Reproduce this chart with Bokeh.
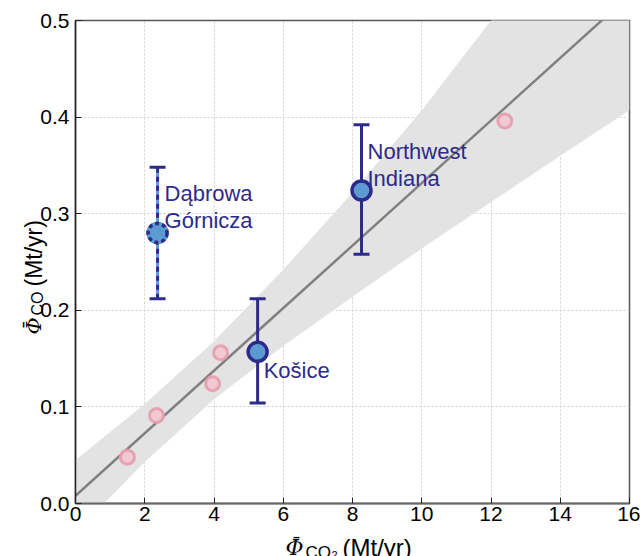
import math
from bokeh.plotting import figure
from bokeh.models import Range1d, FixedTicker, NumeralTickFormatter
from bokeh.core.properties import value
from bokeh.embed import file_html
from bokeh.resources import INLINE

# ---------------- data ----------------
other_x = [1.50, 2.34, 3.96, 4.19, 12.40]
other_y = [0.048, 0.091, 0.124, 0.156, 0.396]

site_names = ["Dąbrowa\nGórnicza", "Northwest\nIndiana", "Košice"]
site_x = [2.37, 8.26, 5.26]
site_y = [0.280, 0.324, 0.157]
site_lo = [0.212, 0.258, 0.104]
site_hi = [0.348, 0.392, 0.212]

fit_x = [0.0, 16.0]
fit_y = [0.008, 0.526]

band_x = [0, 2, 4, 6, 8, 10, 12, 14, 16]
band_lo = [-0.030, 0.043, 0.108, 0.163, 0.214, 0.264, 0.312, 0.360, 0.407]
band_hi = [0.045, 0.103, 0.168, 0.242, 0.322, 0.407, 0.500, 0.595, 0.690]

x_ticks = [0, 2, 4, 6, 8, 10, 12, 14, 16]
y_ticks = [0.0, 0.1, 0.2, 0.3, 0.4, 0.5]

# ---------------- styles ----------------
NAVY = "#2d2a8a"
LBLUE = "#5c9bd1"
FONT = "Liberation Sans"
SERIF = "DejaVu Serif"

FL, FB = 75, 503  # frame left / bottom in canvas pixels

p = figure(width=640, height=556, x_range=Range1d(0, 16), y_range=Range1d(0, 0.5),
           output_backend="svg", toolbar_location=None,
           min_border_left=FL, min_border_right=11, min_border_top=20, min_border_bottom=556 - FB)
p.background_fill_color = "white"
p.border_fill_color = "white"
p.outline_line_color = "#555555"
p.outline_line_width = 1.5

p.xaxis.ticker = FixedTicker(ticks=x_ticks)
p.yaxis.ticker = FixedTicker(ticks=y_ticks)
p.yaxis.formatter = NumeralTickFormatter(format="0.0")
p.axis.major_tick_in = 6
p.axis.major_tick_out = 0
p.axis.minor_tick_line_color = None
p.axis.major_tick_line_color = "#222222"
p.axis.major_label_text_font = FONT
p.axis.major_label_text_font_size = "21px"
p.axis.major_label_text_color = "black"
p.xaxis.major_label_standoff = 3
p.yaxis.major_label_standoff = 6
p.yaxis.axis_line_color = "#222222"
p.yaxis.axis_line_width = 1.5
p.xaxis.axis_line_color = "#666666"
p.xaxis.axis_line_width = 2

p.grid.grid_line_color = "#cfcfcf"
p.grid.grid_line_dash = "2 2"
p.grid.grid_line_width = 1

# confidence band and fit
p.varea(x=band_x, y1=band_lo, y2=band_hi, fill_color="#e3e3e3")
p.line(fit_x, fit_y, line_color="#808080", line_width=2.5)

# other sites
p.scatter(other_x, other_y, size=14, fill_color="#f3c5d0", line_color="#e49cae",
          line_width=3, fill_alpha=0.9, line_alpha=0.9)

# highlighted sites: index 0 dashed, others solid
solid = [1, 2]
dashed = [0]

sx = [site_x[i] for i in solid]
p.segment(x0=sx, y0=[site_lo[i] for i in solid], x1=sx, y1=[site_hi[i] for i in solid],
          line_color=NAVY, line_width=3)
dx = [site_x[i] for i in dashed]
dlo = [site_lo[i] for i in dashed]
dhi = [site_hi[i] for i in dashed]
p.segment(x0=dx, y0=dlo, x1=dx, y1=dhi, line_color=LBLUE, line_width=3)
p.segment(x0=dx, y0=dlo, x1=dx, y1=dhi, line_color=NAVY, line_width=3, line_dash="5 4")

# caps
p.scatter(site_x + site_x, site_lo + site_hi, marker="dash", size=16,
          line_color=NAVY, line_width=3)

# markers
p.scatter([site_x[i] for i in solid], [site_y[i] for i in solid], size=19,
          fill_color=LBLUE, line_color=NAVY, line_width=3.5)
p.scatter(dx, [site_y[i] for i in dashed], size=19,
          fill_color=LBLUE, line_color=LBLUE, line_width=3.5)
p.scatter(dx, [site_y[i] for i in dashed], size=19,
          fill_color=None, line_color=NAVY, line_width=3.5, line_dash="4 3")

# site labels
p.text(x=site_x, y=site_y, text=site_names, x_offset=[7, 6, 6], y_offset=[-52, -52, 6],
       text_baseline="top", text_align="left", text_color=NAVY,
       text_font=value(FONT), text_font_size=value("22px"), text_line_height=1.08)


# axis titles built from pieces, drawn as unclipped text glyphs anchored at the
# frame's bottom-left corner (data 0,0) and offset in canvas pixels
def piece(text, cx, cy, size, font=FONT, style="normal", angle=0.0):
    p.text(x=[0], y=[0], text=[text], x_offset=cx - FL, y_offset=cy - FB, angle=angle,
           text_font=value(font), text_font_size=value(size), text_font_style=style,
           text_color="black", text_align="left", text_baseline="alphabetic",
           level="overlay")


# x axis title
piece("\u03a6", 285, 547, "22px", font=SERIF, style="italic")
piece("\u00af", 291, 544, "20px", font="DejaVu Sans")
piece("CO", 305, 552, "17px")
piece("2", 331, 554, "11px")
piece("(Mt/yr)", 342, 547, "24px")

# y axis title (rotated, reading upward)
R = math.pi / 2
piece("\u03a6", 33, 334, "21px", font=SERIF, style="italic", angle=R)
piece("\u00af", 30, 329, "19px", font="DejaVu Sans", angle=R)
piece("CO", 37, 315, "16px", angle=R)
piece("(Mt/yr)", 33, 286, "23px", angle=R)

open("out.html", "w").write(file_html(p, INLINE))
